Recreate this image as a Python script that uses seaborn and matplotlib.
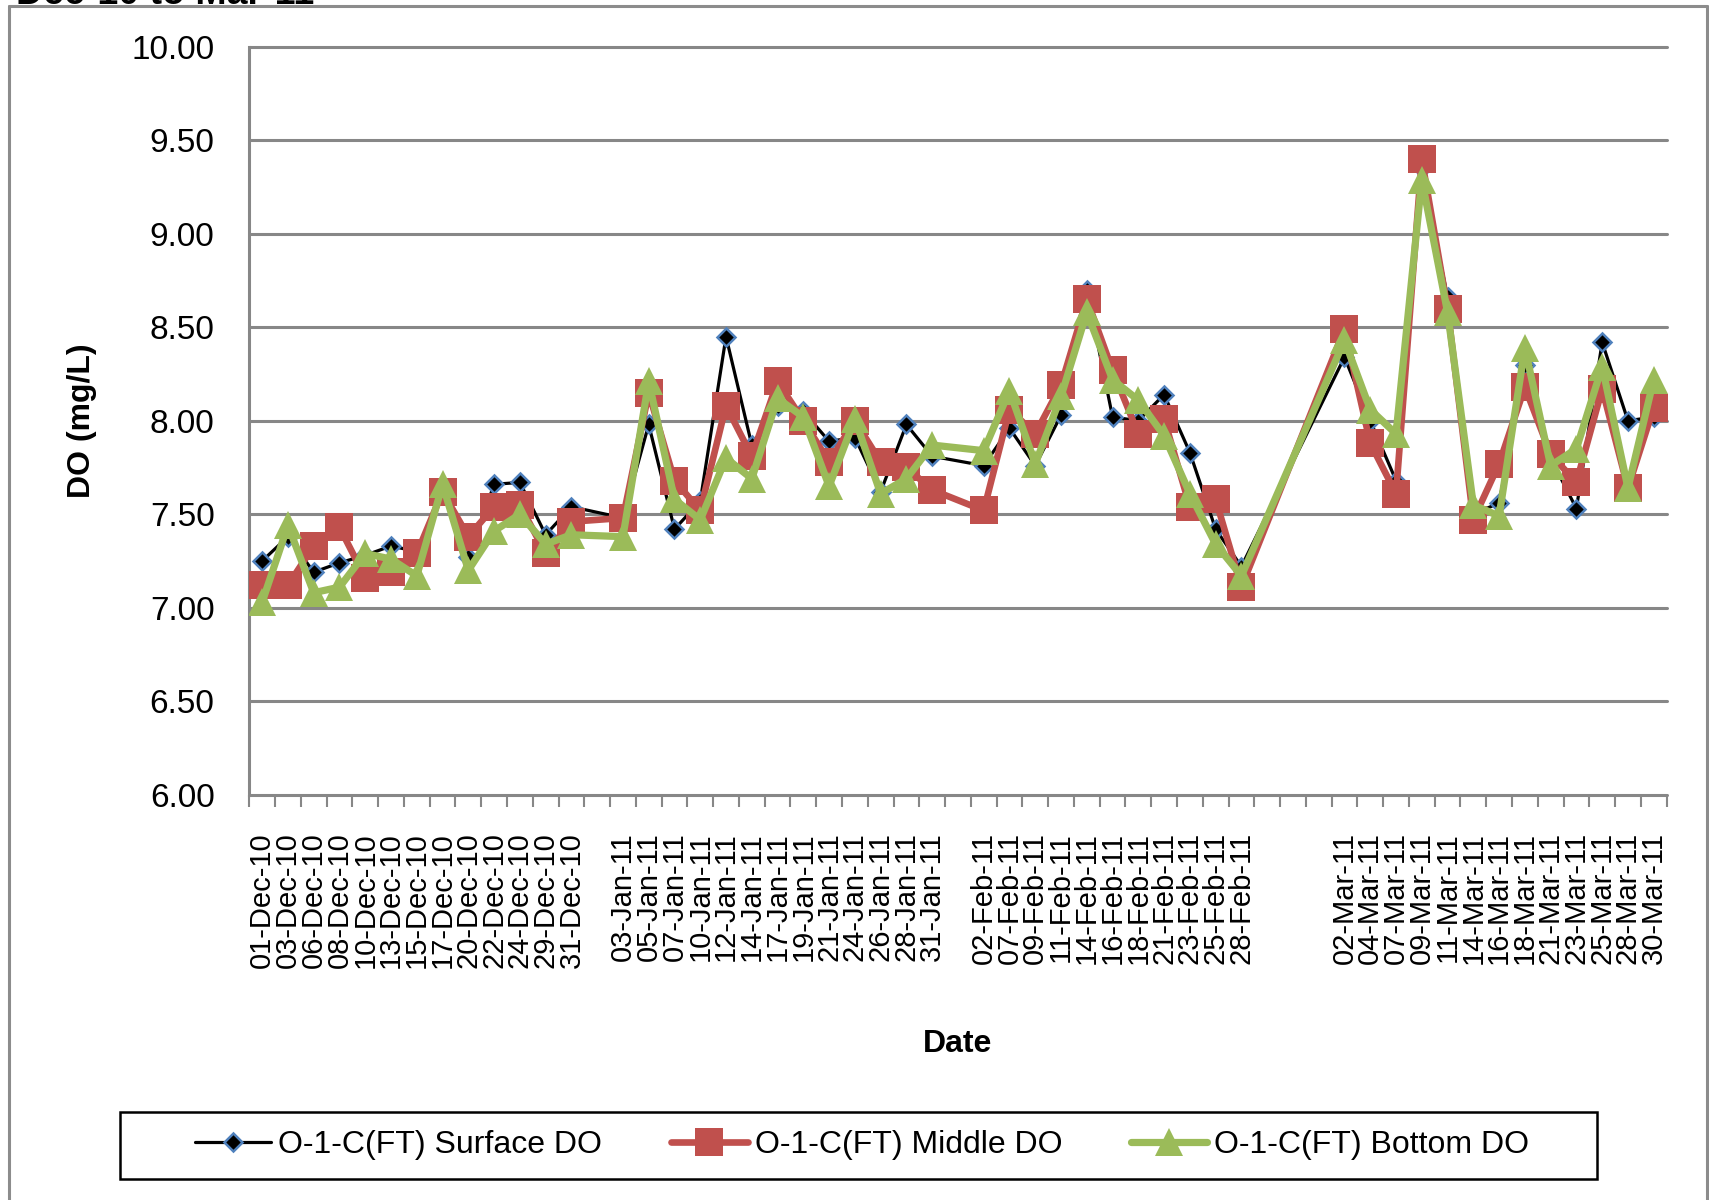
import numpy as np
import pandas as pd
import matplotlib
matplotlib.use("Agg")
import matplotlib.pyplot as plt
from matplotlib.lines import Line2D
from matplotlib.patches import Rectangle
import seaborn as sns

# Sampling dates (blank entries are empty category slots on the axis)
dates = [
    "01-Dec-10", "03-Dec-10", "06-Dec-10", "08-Dec-10", "10-Dec-10", "13-Dec-10",
    "15-Dec-10", "17-Dec-10", "20-Dec-10", "22-Dec-10", "24-Dec-10", "29-Dec-10",
    "31-Dec-10", "",
    "03-Jan-11", "05-Jan-11", "07-Jan-11", "10-Jan-11", "12-Jan-11", "14-Jan-11",
    "17-Jan-11", "19-Jan-11", "21-Jan-11", "24-Jan-11", "26-Jan-11", "28-Jan-11",
    "31-Jan-11", "",
    "02-Feb-11", "07-Feb-11", "09-Feb-11", "11-Feb-11", "14-Feb-11", "16-Feb-11",
    "18-Feb-11", "21-Feb-11", "23-Feb-11", "25-Feb-11", "28-Feb-11", "", "", "",
    "02-Mar-11", "04-Mar-11", "07-Mar-11", "09-Mar-11", "11-Mar-11", "14-Mar-11",
    "16-Mar-11", "18-Mar-11", "21-Mar-11", "23-Mar-11", "25-Mar-11", "28-Mar-11",
    "30-Mar-11",
]

nan = np.nan
surface_do = [
    7.25, 7.38, 7.19, 7.24, 7.28, 7.33, 7.30, 7.62, 7.27, 7.66, 7.67, 7.39, 7.54, nan,
    7.48, 7.98, 7.42, 7.57, 8.45, 7.87, 8.08, 8.05, 7.89, 7.91, 7.62, 7.98, 7.81, nan,
    7.76, 7.96, 7.76, 8.03, 8.70, 8.02, 8.00, 8.14, 7.83, 7.42, 7.22, nan, nan, nan,
    8.34, 8.00, 7.68, 9.35, 8.66, 7.50, 7.56, 8.30, 7.80, 7.53, 8.42, 8.00, 8.02,
]
middle_do = [
    7.12, 7.12, 7.33, 7.43, 7.16, 7.19, 7.29, 7.62, 7.38, 7.54, 7.55, 7.29, 7.46, nan,
    7.48, 8.15, 7.68, 7.52, 8.08, 7.81, 8.21, 8.00, 7.78, 8.00, 7.78, 7.75, 7.63, nan,
    7.52, 8.06, 7.93, 8.19, 8.65, 8.27, 7.93, 8.01, 7.54, 7.58, 7.11, nan, nan, nan,
    8.49, 7.88, 7.61, 9.40, 8.60, 7.47, 7.77, 8.18, 7.82, 7.67, 8.17, 7.64, 8.07,
]
bottom_do = [
    7.03, 7.44, 7.08, 7.11, 7.29, 7.26, 7.17, 7.66, 7.20, 7.41, 7.50, 7.34, 7.39, nan,
    7.38, 8.21, 7.58, 7.47, 7.80, 7.69, 8.12, 8.02, 7.65, 8.01, 7.61, 7.69, 7.87, nan,
    7.84, 8.16, 7.77, 8.13, 8.58, 8.22, 8.11, 7.92, 7.61, 7.34, 7.17, nan, nan, nan,
    8.43, 8.06, 7.93, 9.29, 8.58, 7.55, 7.49, 8.39, 7.76, 7.85, 8.29, 7.64, 8.22,
]
series_labels = ["O-1-C(FT) Surface DO", "O-1-C(FT) Middle DO", "O-1-C(FT) Bottom DO"]
y_ticks = [6.0, 6.5, 7.0, 7.5, 8.0, 8.5, 9.0, 9.5, 10.0]

sns.set_theme(style="white")
plt.rcParams["font.family"] = ["Liberation Sans", "DejaVu Sans"]
plt.rcParams.update({
    "text.color": "black", "axes.labelcolor": "black",
    "xtick.color": "black", "ytick.color": "black",
})

GRID = "#878787"
W, H = 1709, 1200
fig = plt.figure(figsize=(W / 100, H / 100), dpi=100)
fig.patch.set_facecolor("white")

ax_l, ax_r, ax_t, ax_b = 249.3, 1666.6, 46.9, 794.6
ax = fig.add_axes([ax_l / W, 1 - ax_b / H, (ax_r - ax_l) / W, (ax_b - ax_t) / H])
ax.set_facecolor("white")

pos = np.arange(len(dates))
df = pd.DataFrame({"pos": pos, "surface": surface_do,
                   "middle": middle_do, "bottom": bottom_do})

styles = {
    "surface": dict(color="black", linewidth=2.3, marker="D", markersize=9.5,
                    markerfacecolor="black", markeredgecolor="#4F81BD",
                    markeredgewidth=1.8, zorder=3),
    "middle": dict(color="#C0504D", linewidth=4.8, marker="s", markersize=20,
                   markerfacecolor="#C0504D", markeredgecolor="#C0504D",
                   markeredgewidth=0, zorder=4),
    "bottom": dict(color="#9BBB59", linewidth=5.2, marker="^", markersize=20,
                   markerfacecolor="#9BBB59", markeredgecolor="#9BBB59",
                   markeredgewidth=0, zorder=5),
}
for col, label in zip(["surface", "middle", "bottom"], series_labels):
    d = df[["pos", col]].dropna()
    sns.lineplot(data=d, x="pos", y=col, ax=ax, label=label, legend=False,
                 estimator=None, sort=True, **styles[col])

# axes ranges and gridlines
ax.set_xlim(-0.5, len(dates) - 0.5)
ax.set_ylim(6, 10)
for yv in y_ticks:
    ax.axhline(yv, color=GRID, linewidth=2.2, zorder=1, clip_on=False)
for side in ["top", "right", "bottom"]:
    ax.spines[side].set_visible(False)
ax.spines["left"].set_color(GRID)
ax.spines["left"].set_linewidth(2.2)

ax.set_yticks(y_ticks)
ax.set_yticklabels([f"{v:.2f}" for v in y_ticks])
ax.tick_params(axis="y", length=0, pad=25, labelsize=24)

ax.set_xticks(pos)
ax.set_xticklabels(dates, rotation=90)
ax.tick_params(axis="x", which="major", length=0, pad=27, labelsize=21)
ax.set_xticks(np.arange(-0.5, len(dates), 1.0), minor=True)
ax.tick_params(axis="x", which="minor", bottom=True, length=8.6, width=1.5,
               color=GRID, direction="out")

ax.set_ylabel("DO (mg/L)", fontsize=23, fontweight="bold", va="center")
ax.yaxis.set_label_coords(-0.118, 0.5)
ax.set_xlabel("Date", fontsize=23, fontweight="bold", va="center")
ax.xaxis.set_label_coords(0.5, -0.3336)

# chart title (top edge of the chart area)
fig.text(16 / W, 1 - 4 / H, "Dec-10 to Mar-11", ha="left", va="baseline",
         fontsize=27, fontweight="bold")

# chart area border
bx0, bx1, by0 = 8.5 / W, 1707 / W, 1 - 5.5 / H
for xs, ys in [([bx0, bx0], [by0, 0]), ([bx0, bx1], [by0, by0]), ([bx1, bx1], [by0, 0])]:
    fig.add_artist(Line2D(xs, ys, transform=fig.transFigure, color="#8c8c8c",
                          linewidth=2.2))

# legend
handles, labels = ax.get_legend_handles_labels()
fig.legend(handles, labels, loc="center", bbox_to_anchor=(862 / W, 1 - 1145.5 / H),
           bbox_transform=fig.transFigure, ncol=3, frameon=False, fontsize=23,
           handlelength=2.4, handletextpad=0.22, columnspacing=2.15)
fig.add_artist(Rectangle((120 / W, 1 - 1179 / H), 1477 / W, 67 / H,
                         transform=fig.transFigure, facecolor="none",
                         edgecolor="black", linewidth=1.8))

fig.savefig("out.png", dpi=100, facecolor="white")
